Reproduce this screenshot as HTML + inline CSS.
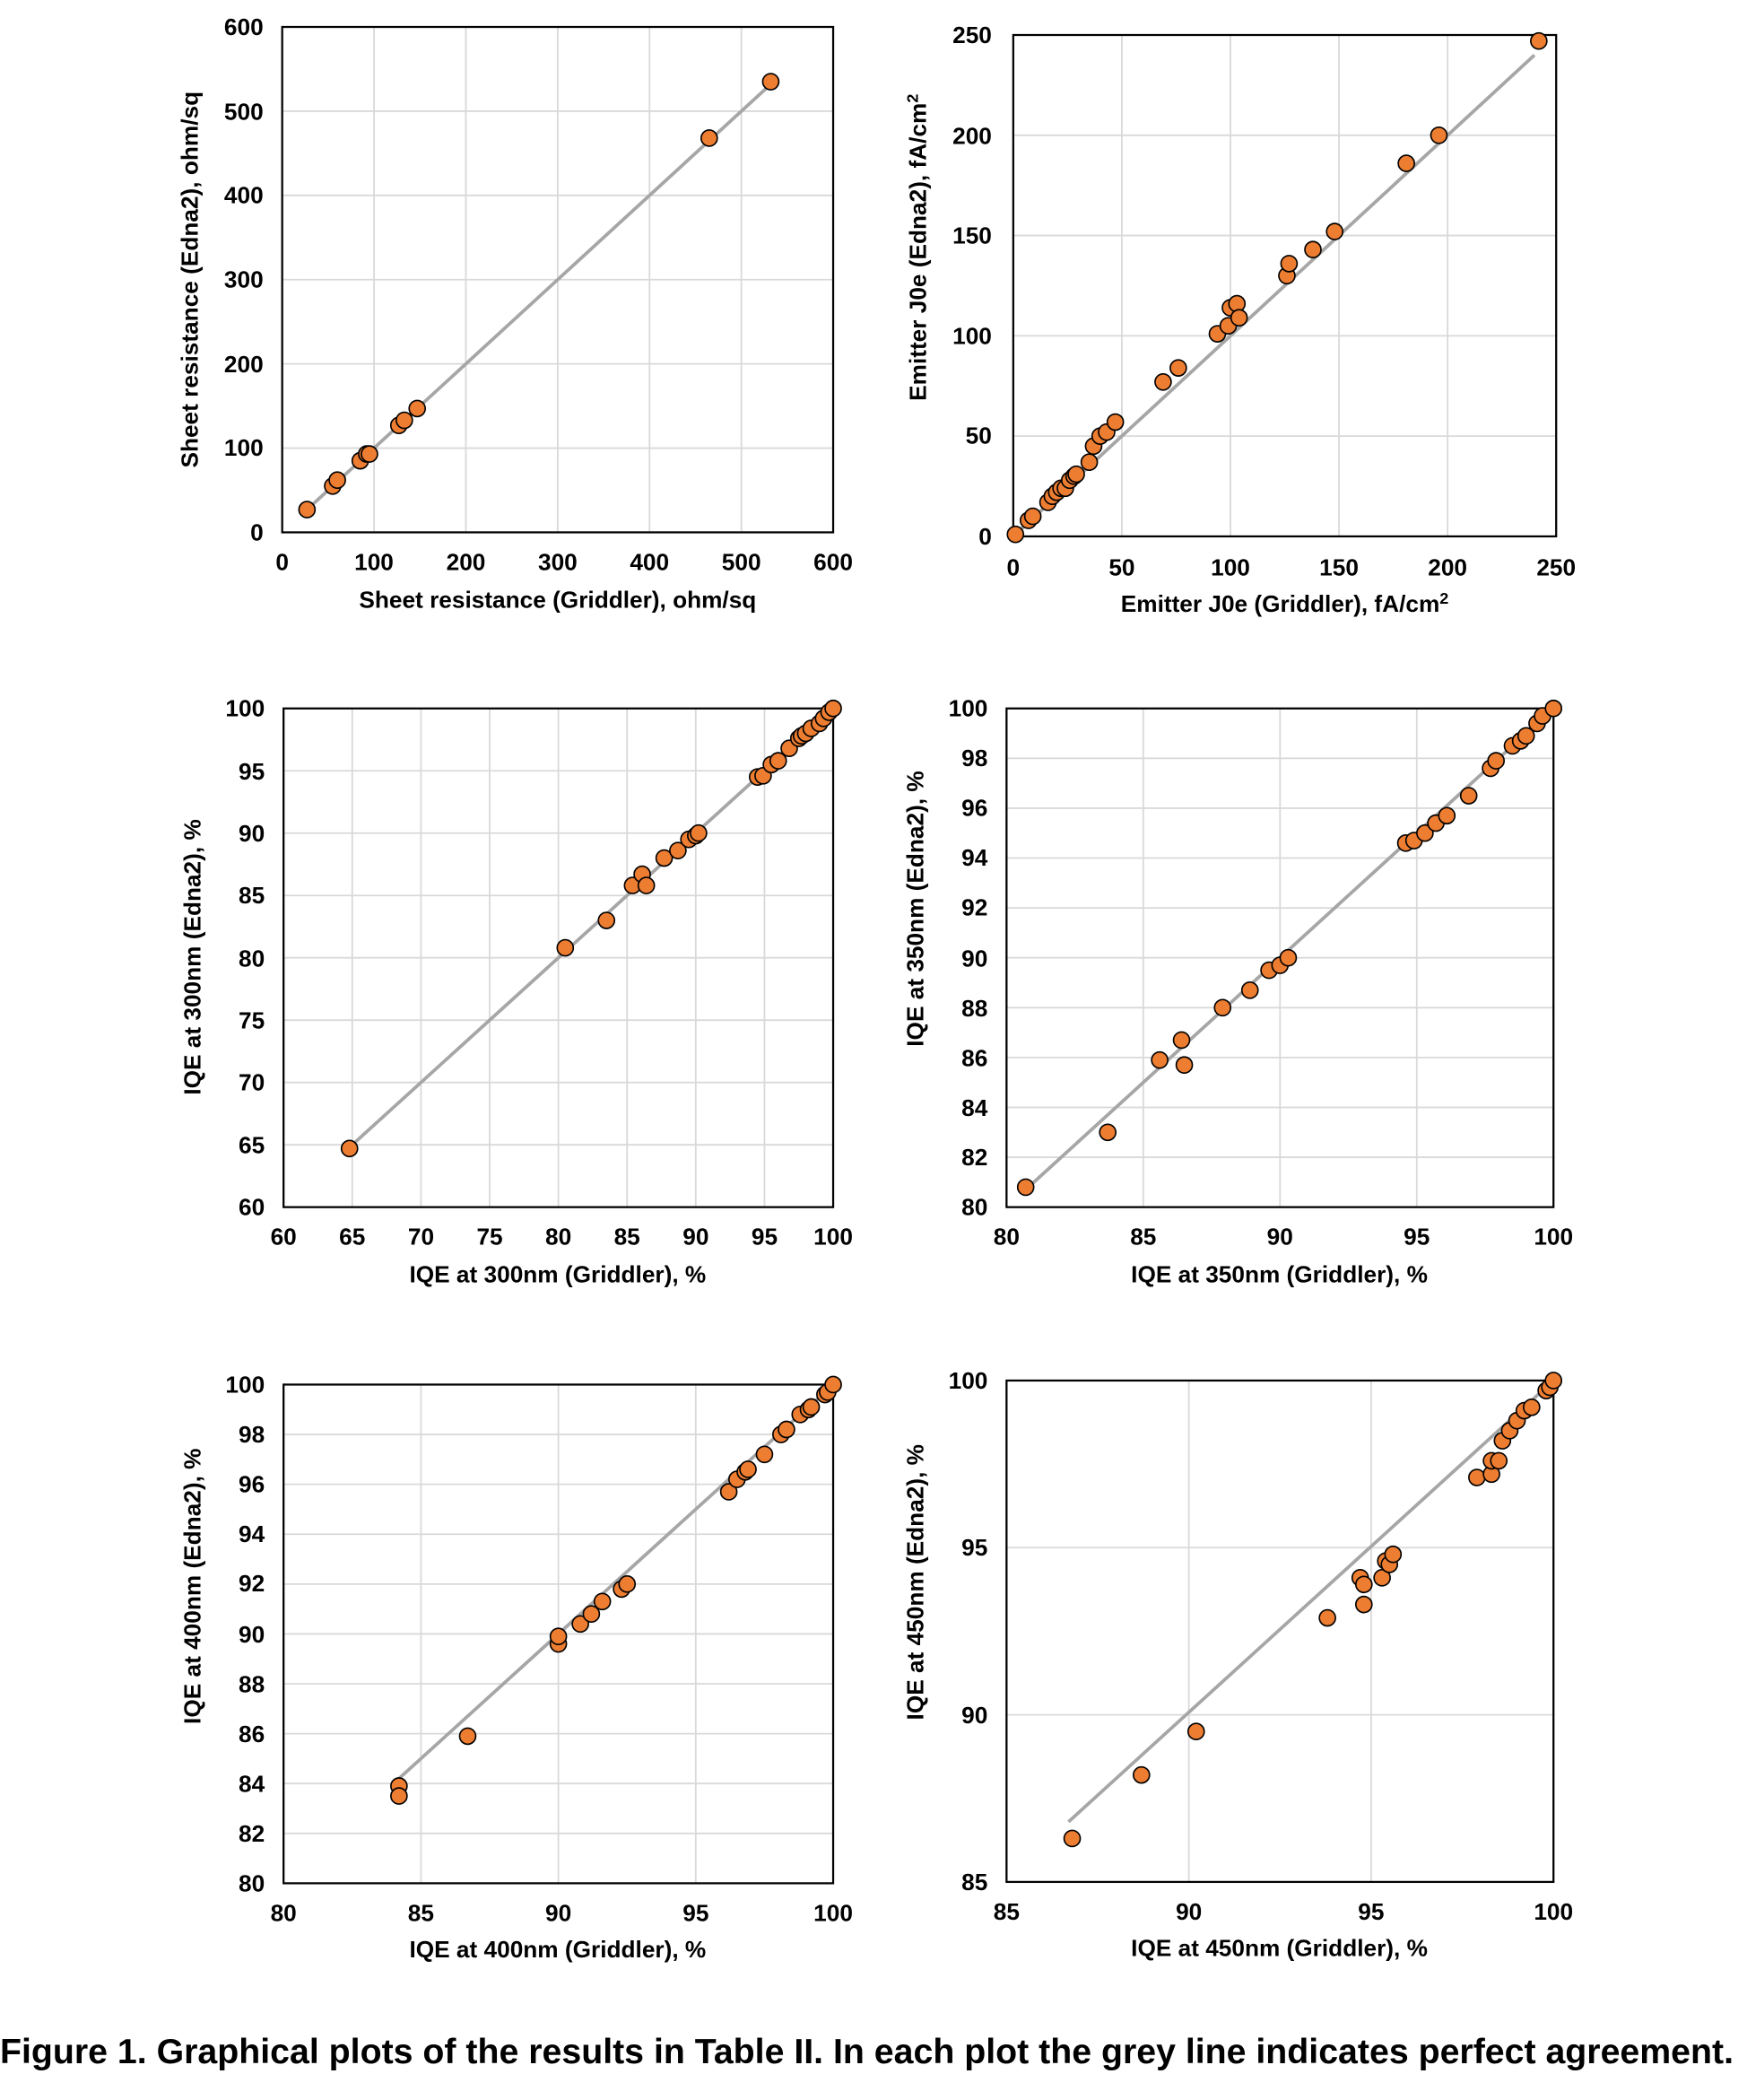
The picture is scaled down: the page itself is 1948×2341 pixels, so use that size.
<!DOCTYPE html>
<html><head><meta charset="utf-8"><style>
html,body{margin:0;padding:0;background:#fff;}
svg{display:block;}
text{font-family:"Liberation Sans",Arial,sans-serif;fill:#000;font-weight:bold;}
.t{font-size:17.5px;}
.yt{text-anchor:end;}
.xt{text-anchor:middle;}
.ti{font-size:17.5px;text-anchor:middle;}
</style></head><body>
<svg id="s" width="1948" height="2341" viewBox="0 0 1300 1562.2" xmlns="http://www.w3.org/2000/svg">
<g id="g"></g>
<!-- P1 -->
<g class="t">
<text class="yt" x="196" y="402">0</text><text class="yt" x="196" y="339">100</text><text class="yt" x="196" y="277">200</text><text class="yt" x="196" y="214">300</text><text class="yt" x="196" y="151">400</text><text class="yt" x="196" y="89">500</text><text class="yt" x="196" y="26">600</text>
<text class="xt" x="210" y="424">0</text><text class="xt" x="278.3" y="424">100</text><text class="xt" x="346.7" y="424">200</text><text class="xt" x="415" y="424">300</text><text class="xt" x="483.3" y="424">400</text><text class="xt" x="551.7" y="424">500</text><text class="xt" x="620" y="424">600</text>
</g>
<text class="ti" x="415" y="452">Sheet resistance (Griddler), ohm/sq</text>
<text class="ti" transform="translate(147,208) rotate(-90)">Sheet resistance (Edna2), ohm/sq</text>
<!-- P2 -->
<g class="t">
<text class="yt" x="738" y="405">0</text><text class="yt" x="738" y="330">50</text><text class="yt" x="738" y="256">100</text><text class="yt" x="738" y="181">150</text><text class="yt" x="738" y="107">200</text><text class="yt" x="738" y="32">250</text>
<text class="xt" x="754" y="428">0</text><text class="xt" x="834.8" y="428">50</text><text class="xt" x="915.6" y="428">100</text><text class="xt" x="996.4" y="428">150</text><text class="xt" x="1077.2" y="428">200</text><text class="xt" x="1158" y="428">250</text>
</g>
<text class="ti" x="956" y="455">Emitter J0e (Griddler), fA/cm<tspan dy="-6" font-size="12">2</tspan></text>
<text class="ti" transform="translate(689,184) rotate(-90)">Emitter J0e (Edna2), fA/cm<tspan dy="-6" font-size="12">2</tspan></text>
<!-- P3 -->
<g class="t">
<text class="yt" x="197" y="904">60</text><text class="yt" x="197" y="858">65</text><text class="yt" x="197" y="811">70</text><text class="yt" x="197" y="765">75</text><text class="yt" x="197" y="719">80</text><text class="yt" x="197" y="672">85</text><text class="yt" x="197" y="626">90</text><text class="yt" x="197" y="580">95</text><text class="yt" x="197" y="533">100</text>
<text class="xt" x="211" y="926">60</text><text class="xt" x="262.1" y="926">65</text><text class="xt" x="313.3" y="926">70</text><text class="xt" x="364.4" y="926">75</text><text class="xt" x="415.5" y="926">80</text><text class="xt" x="466.6" y="926">85</text><text class="xt" x="517.8" y="926">90</text><text class="xt" x="568.9" y="926">95</text><text class="xt" x="620" y="926">100</text>
</g>
<text class="ti" x="415" y="954">IQE at 300nm (Griddler), %</text>
<text class="ti" transform="translate(149,712) rotate(-90)">IQE at 300nm (Edna2), %</text>
<!-- P4 -->
<g class="t">
<text class="yt" x="735" y="904">80</text><text class="yt" x="735" y="867">82</text><text class="yt" x="735" y="830">84</text><text class="yt" x="735" y="793">86</text><text class="yt" x="735" y="756">88</text><text class="yt" x="735" y="719">90</text><text class="yt" x="735" y="681">92</text><text class="yt" x="735" y="644">94</text><text class="yt" x="735" y="607">96</text><text class="yt" x="735" y="570">98</text><text class="yt" x="735" y="533">100</text>
<text class="xt" x="749" y="926">80</text><text class="xt" x="850.75" y="926">85</text><text class="xt" x="952.5" y="926">90</text><text class="xt" x="1054.25" y="926">95</text><text class="xt" x="1156" y="926">100</text>
</g>
<text class="ti" x="952" y="954">IQE at 350nm (Griddler), %</text>
<text class="ti" transform="translate(687,676) rotate(-90)">IQE at 350nm (Edna2), %</text>
<!-- P5 -->
<g class="t">
<text class="yt" x="197" y="1407">80</text><text class="yt" x="197" y="1370">82</text><text class="yt" x="197" y="1333">84</text><text class="yt" x="197" y="1296">86</text><text class="yt" x="197" y="1259">88</text><text class="yt" x="197" y="1222">90</text><text class="yt" x="197" y="1184">92</text><text class="yt" x="197" y="1147">94</text><text class="yt" x="197" y="1110">96</text><text class="yt" x="197" y="1073">98</text><text class="yt" x="197" y="1036">100</text>
<text class="xt" x="211" y="1429">80</text><text class="xt" x="313.25" y="1429">85</text><text class="xt" x="415.5" y="1429">90</text><text class="xt" x="517.75" y="1429">95</text><text class="xt" x="620" y="1429">100</text>
</g>
<text class="ti" x="415" y="1456">IQE at 400nm (Griddler), %</text>
<text class="ti" transform="translate(149,1180) rotate(-90)">IQE at 400nm (Edna2), %</text>
<!-- P6 -->
<g class="t">
<text class="yt" x="735" y="1406">85</text><text class="yt" x="735" y="1282">90</text><text class="yt" x="735" y="1157">95</text><text class="yt" x="735" y="1033">100</text>
<text class="xt" x="749" y="1428">85</text><text class="xt" x="884.7" y="1428">90</text><text class="xt" x="1020.3" y="1428">95</text><text class="xt" x="1156" y="1428">100</text>
</g>
<text class="ti" x="952" y="1455">IQE at 450nm (Griddler), %</text>
<text class="ti" transform="translate(687,1177) rotate(-90)">IQE at 450nm (Edna2), %</text>
<text x="0" y="1535" font-size="26" textLength="1290" lengthAdjust="spacingAndGlyphs">Figure 1. Graphical plots of the results in Table II.  In each plot the grey line indicates perfect agreement.</text>
</svg>
<script>
var NS="http://www.w3.org/2000/svg",G=document.getElementById("g");
function el(n,a){var e=document.createElementNS(NS,n);for(var k in a)e.setAttribute(k,a[k]);G.appendChild(e);return e;}
function plot(p){
 var X=function(v){return p.x0+(p.x1-p.x0)*(v-p.vx0)/(p.vx1-p.vx0)};
 var Y=function(v){return p.y0-(p.y0-p.y1)*(v-p.vy0)/(p.vy1-p.vy0)};
 for(var v=p.vx0+p.sx;v<p.vx1-1e-9;v+=p.sx)el("line",{x1:X(v),x2:X(v),y1:p.y1,y2:p.y0,stroke:"#d9d9d9","stroke-width":1.2});
 for(var v=p.vy0+p.sy;v<p.vy1-1e-9;v+=p.sy)el("line",{x1:p.x0,x2:p.x1,y1:Y(v),y2:Y(v),stroke:"#d9d9d9","stroke-width":1.2});
 el("rect",{x:p.x0,y:p.y1,width:p.x1-p.x0,height:p.y0-p.y1,fill:"none",stroke:"#000","stroke-width":1.5});
 el("line",{x1:X(p.l[0]),y1:Y(p.l[1]),x2:X(p.l[2]),y2:Y(p.l[3]),stroke:"#a6a6a6","stroke-width":2.5});
 p.d.forEach(function(q){el("circle",{cx:X(q[0]),cy:Y(q[1]),r:6,fill:"#ED7D31",stroke:"#000","stroke-width":1.1});});
}
plot({x0:210,x1:620,y0:396,y1:20,vx0:0,vx1:600,vy0:0,vy1:600,sx:100,sy:100,l:[27,27,530,530],
d:[[27,27],[55,55],[60,62],[85,85],[92,93],[95,93],[127,127],[133,133],[147,147],[465,468],[532,535]]});
plot({x0:754,x1:1158,y0:399,y1:26,vx0:0,vx1:250,vy0:0,vy1:250,sx:50,sy:50,l:[3,3,240,240],
d:[[1,1],[7,8],[9,10],[16,17],[18,20],[20,22],[22,24],[24,24],[26,28],[28,30],[29,31],[35,37],[37,45],[40,50],[43,52],[47,57],[69,77],[76,84],[94,101],[99,105],[100,114],[103,116],[104,109],[126,130],[127,136],[138,143],[148,152],[181,186],[196,200],[242,247]]});
plot({x0:211,x1:620,y0:898,y1:527,vx0:60,vx1:100,vy0:60,vy1:100,sx:5,sy:5,l:[65,65,100,100],
d:[[64.8,64.7],[80.5,80.8],[83.5,83],[85.4,85.8],[86.1,86.7],[86.4,85.8],[87.7,88],[88.7,88.6],[89.5,89.5],[90,89.8],[90.2,90],[94.5,94.5],[94.9,94.6],[95.5,95.5],[96,95.8],[96.8,96.8],[97.5,97.6],[97.7,97.8],[98,98],[98.4,98.4],[99,98.8],[99.3,99.2],[99.7,99.7],[100,100]]});
plot({x0:749,x1:1156,y0:898,y1:527,vx0:80,vx1:100,vy0:80,vy1:100,sx:5,sy:2,l:[80.7,80.7,100,100],
d:[[80.7,80.8],[83.7,83],[85.6,85.9],[86.4,86.7],[86.5,85.7],[87.9,88],[88.9,88.7],[89.6,89.5],[90,89.7],[90.3,90],[94.6,94.6],[94.9,94.7],[95.3,95],[95.7,95.4],[96.1,95.7],[96.9,96.5],[97.7,97.6],[97.9,97.9],[98.5,98.5],[98.8,98.7],[99,98.9],[99.4,99.4],[99.6,99.7],[100,100]]});
plot({x0:211,x1:620,y0:1401,y1:1030,vx0:80,vx1:100,vy0:80,vy1:100,sx:5,sy:2,l:[84.2,84.2,100,100],
d:[[84.2,83.9],[84.2,83.5],[86.7,85.9],[90,89.6],[90,89.9],[90.8,90.4],[91.2,90.8],[91.6,91.3],[92.3,91.8],[92.5,92],[96.2,95.7],[96.5,96.2],[96.8,96.5],[96.9,96.6],[97.5,97.2],[98.1,98],[98.3,98.2],[98.8,98.8],[99.1,99],[99.2,99.1],[99.7,99.6],[99.8,99.7],[100,100]]});
plot({x0:749,x1:1156,y0:1400,y1:1027,vx0:85,vx1:100,vy0:85,vy1:100,sx:5,sy:5,l:[86.7,86.8,100,100],
d:[[86.8,86.3],[88.7,88.2],[90.2,89.5],[93.8,92.9],[94.7,94.1],[94.8,93.9],[94.8,93.3],[95.3,94.1],[95.4,94.6],[95.5,94.5],[95.6,94.8],[97.9,97.1],[98.3,97.2],[98.3,97.6],[98.5,97.6],[98.6,98.2],[98.8,98.5],[99,98.8],[99.2,99.1],[99.4,99.2],[99.8,99.7],[99.9,99.8],[100,100]]});
</script>
</body></html>
